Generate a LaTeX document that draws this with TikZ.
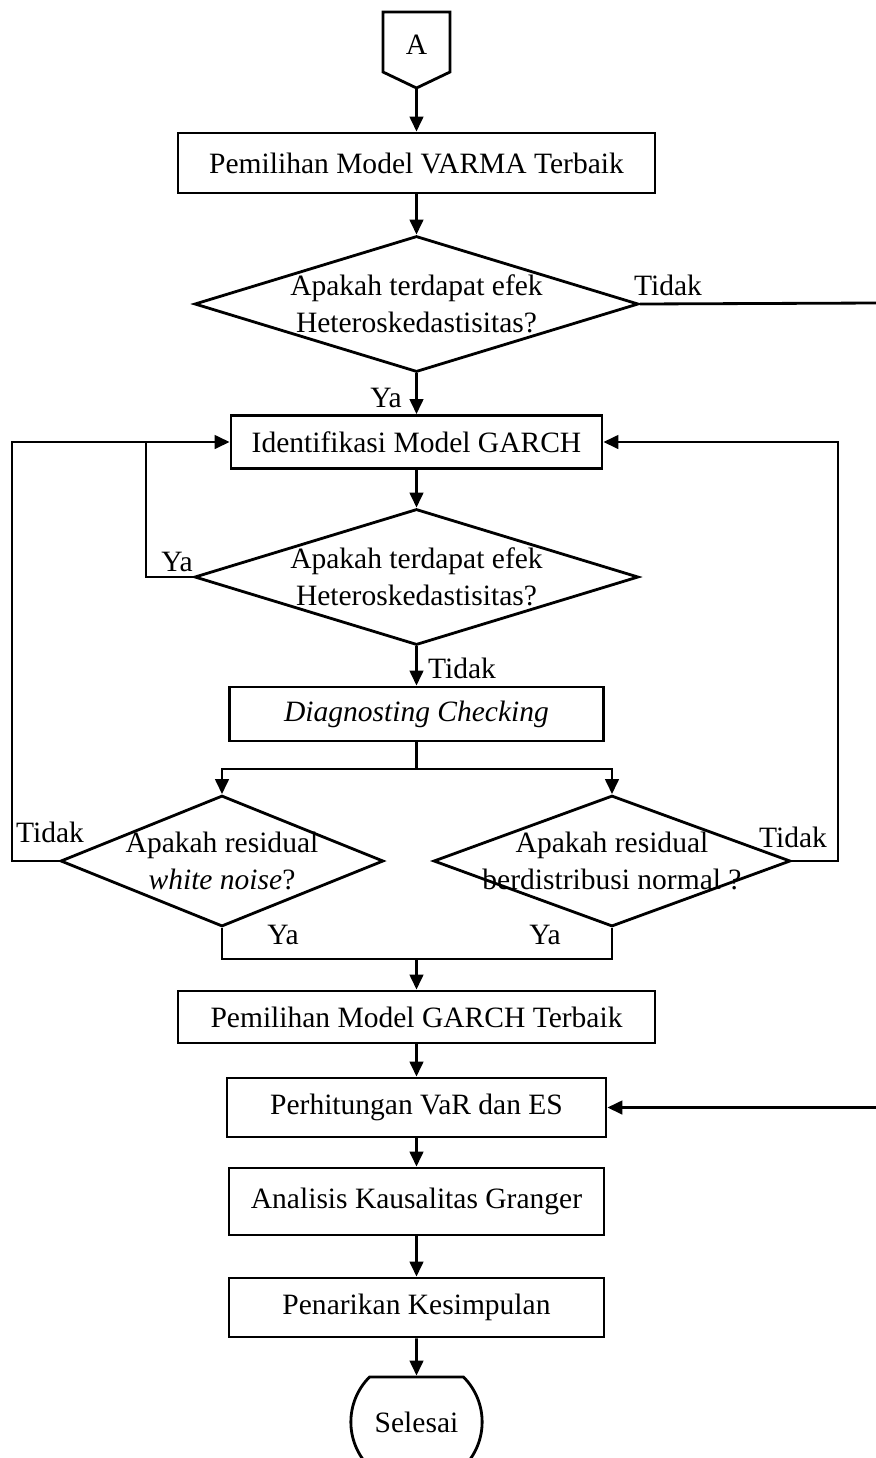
\documentclass[tikz,border=0pt]{standalone}
\usepackage{fontspec}
\setmainfont{Liberation Serif}
\usetikzlibrary{arrows.meta,shapes.geometric,shapes.misc}

\begin{document}
\begin{tikzpicture}[x=0.02cm,y=-0.02cm,line width=1.6pt,
    font=\fontsize{16.8}{21}\selectfont,
    proc/.style={rectangle,draw,inner sep=0pt},
    decide/.style={diamond,draw,inner sep=-1.5cm,align=center},
    lbl/.style={inner sep=0pt},
    arr/.style={-{Triangle[length=0.3cm,width=0.27cm]}}]
    \useasboundingbox (0,0) rectangle (876,1458);

    % Off-page connector
    \draw (383,12) -- (450,12) -- (450,72) -- (416.5,88) -- (383,72) -- cycle;
    \node[lbl] (conA) at (416.5,45) {A};
    \coordinate (conAtip) at (416.5,88);

    % Process column
    \node[proc,minimum width=9.54cm,minimum height=1.2cm] (varma) at (416.5,163) {Pemilihan Model VARMA Terbaik};
    \node[decide,minimum width=8.88cm,minimum height=2.72cm] (hetA) at (416.5,304) {Apakah terdapat efek\\Heteroskedastisitas?};
    \node[proc,minimum width=7.42cm,minimum height=1.06cm] (ident) at (416.5,442) {Identifikasi Model GARCH};
    \node[decide,minimum width=8.88cm,minimum height=2.72cm] (hetB) at (416.5,577) {Apakah terdapat efek\\Heteroskedastisitas?};
    \node[proc,minimum width=7.48cm,minimum height=1.08cm] (diag) at (416.5,714) {\textit{Diagnosting Checking}};
    \node[decide,minimum width=6.46cm,minimum height=2.62cm] (wnoise) at (222,861) {Apakah residual\\\textit{white noise}?};
    \node[decide,minimum width=7.14cm,minimum height=2.62cm] (normal) at (612,861) {Apakah residual\\berdistribusi normal ?};
    \node[proc,minimum width=9.54cm,minimum height=1.04cm] (garch) at (416.5,1017) {Pemilihan Model GARCH Terbaik};
    \node[proc,minimum width=7.58cm,minimum height=1.18cm] (risk) at (416.5,1107.5) {Perhitungan VaR dan ES};
    \node[proc,minimum width=7.5cm,minimum height=1.34cm] (granger) at (416.5,1201.5) {Analisis Kausalitas Granger};
    \node[proc,minimum width=7.5cm,minimum height=1.18cm] (kesim) at (416.5,1307.5) {Penarikan Kesimpulan};
    \node[rounded rectangle,rounded rectangle arc length=90,draw,minimum width=2.86cm,minimum height=1.8cm] (selesai) at (416.5,1422) {Selesai};

    % Branch labels
    \node[lbl] (tdkA) at (668,285) {Tidak};
    \node[lbl] (yaA) at (386,398) {Ya};
    \node[lbl] (yaB) at (177,562) {Ya};
    \node[lbl] (tdkB) at (462,668) {Tidak};
    \node[lbl] (tdkC) at (50,832) {Tidak};
    \node[lbl] (yaC) at (283,935) {Ya};
    \node[lbl] (tdkD) at (793,837) {Tidak};
    \node[lbl] (yaD) at (545,935) {Ya};

    % Junctions
    \coordinate (loopIn) at (146,442);
    \coordinate (loopOut) at (12,442);
    \coordinate (loopR) at (838,442);
    \coordinate (split) at (416.5,769);
    \coordinate (merge) at (416.5,959);
    \coordinate (edgeTop) at (876,303);
    \coordinate (edgeBot) at (876,1107.5);

    % Connectors
    \draw[arr] (conAtip) -- (varma);
    \draw[arr] (varma) -- (hetA);
    \draw (hetA.east) -- (edgeTop);
    \draw[arr] (hetA) -- (ident);
    \draw[arr] (ident) -- (hetB);
    \draw[arr] (hetB.west) -| (loopIn) -- (ident.west);
    \draw[arr] (hetB) -- (diag);
    \draw (diag) -- (split);
    \draw[arr] (split) -| (wnoise.north);
    \draw[arr] (split) -| (normal.north);
    \draw (wnoise.west) -| (loopOut) -- (loopIn);
    \draw[arr] (normal.east) -| (loopR) -- (ident.east);
    \draw (wnoise.south) |- (merge);
    \draw (normal.south) |- (merge);
    \draw[arr] (merge) -- (garch);
    \draw[arr] (garch) -- (risk);
    \draw[arr] (edgeBot) -- (risk.east);
    \draw[arr] (risk) -- (granger);
    \draw[arr] (granger) -- (kesim);
    \draw[arr] (kesim) -- (selesai);
\end{tikzpicture}
\end{document}
